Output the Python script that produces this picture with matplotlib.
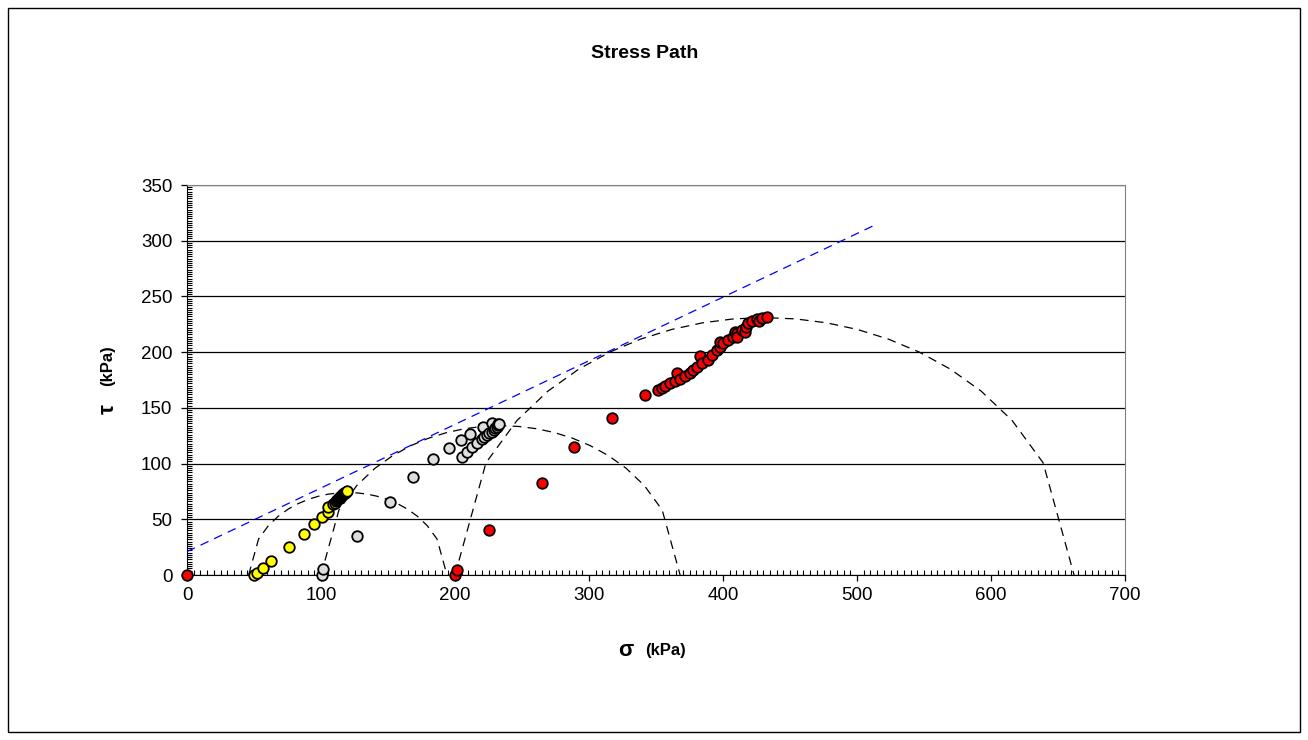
import matplotlib
matplotlib.use('Agg')
import matplotlib.pyplot as plt
import numpy as np
from matplotlib.patches import Rectangle
from matplotlib.ticker import MultipleLocator

plt.rcParams['font.family'] = ['Liberation Sans', 'DejaVu Sans']

# stress path points (sigma, tau) in kPa
yellow_s = [50, 52, 56.5, 62.7, 75.9, 87.5, 95, 100.5, 105.4, 105, 109.2, 110.5, 111.5, 112.3,
            113, 113.8, 114.5, 115.2, 116, 116.7, 117.3, 118, 118.6, 119.2]
yellow_t = [0, 1.5, 6, 12.6, 25.4, 36.8, 45.8, 52.3, 56.8, 61.3, 63.7, 65, 66.2, 67.2,
            68, 69, 70, 70.8, 71.7, 72.5, 73.3, 74, 74.8, 75.5]

grey_s = [100.5, 101.2, 126.6, 151.5, 168.9, 183.8, 195.5, 204.5, 211.2, 221.1, 227.4, 232.3,
          205.5, 208.7, 212.4, 216.2, 219.9, 221.5, 223.6, 225.5, 227.4, 228.8, 229.9, 231.2,
          232.3, 233]
grey_t = [0, 5, 35.3, 65.2, 88.2, 104.1, 114.3, 121.2, 126.2, 132.5, 136.1, 135.5,
          106.2, 110.7, 115.2, 118.7, 121.8, 123.5, 125.6, 127.2, 128.6, 130, 131.6, 133,
          134.6, 135.5]

red_s = [0, 200, 201.2, 225.4, 265, 288.8, 316.9, 341.9, 351.7, 354.2, 356.7, 360.4, 364.2,
         365.4, 367.9, 371.6, 375.4, 377.9, 380.4, 382.8, 384.1, 389, 391.6, 395.3, 397.8,
         397.8, 400.2, 404, 407.2, 409, 410.2, 410.2, 413.9, 416.4, 417.2, 418.9, 421.6,
         425.4, 427, 429.1, 432.8]
red_t = [0, 0, 4.5, 40.4, 83, 115, 140.6, 161.6, 166, 167.5, 169.6, 172, 174.1,
         181.5, 175.9, 178.6, 181, 184, 186.9, 196.5, 190.5, 193, 197.4, 201.9, 204.9,
         209.4, 207.9, 210.9, 213.9, 218.4, 216.9, 213.9, 219.9, 218.4, 222.8, 225.9, 228,
         229.3, 228, 230.6, 231.5]

# failure envelope
env_s = [0, 515]
env_t = [21, 315]

# Mohr circles (sigma3, sigma1)
sig3 = [46, 100, 200]
sig1 = [194, 368, 662]

fig = plt.figure(figsize=(13.08, 7.40), dpi=100)
fig.patches.append(Rectangle((8 / 1308, 8 / 740), 1292 / 1308, 724 / 740, transform=fig.transFigure,
                             fill=False, edgecolor='black', linewidth=1))

ax = fig.add_axes([187 / 1308, 165 / 740, 938 / 1308, 390 / 740])

for s3, s1 in zip(sig3, sig1):
    c = (s3 + s1) / 2
    r = (s1 - s3) / 2
    xs = np.linspace(s3, s1, 21)
    ys = np.sqrt(np.clip(r ** 2 - (xs - c) ** 2, 0, None))
    ax.plot(xs, ys, color='black', lw=0.9, dashes=(7, 5), zorder=3)

ax.plot(env_s, env_t, color='#0000FF', lw=0.9, dashes=(7, 5), zorder=3)

mk = dict(linestyle='none', marker='o', ms=7.6, mec='black', mew=1.3, clip_on=False, zorder=4)
ax.plot(yellow_s, yellow_t, mfc='#FFFF00', **mk)
ax.plot(grey_s, grey_t, mfc='#DDDDDD', **mk)
ax.plot(red_s, red_t, mfc='#FF0000', **mk)

ax.set_xlim(0, 700)
ax.set_ylim(0, 350)
ax.xaxis.set_major_locator(MultipleLocator(100))
ax.xaxis.set_minor_locator(MultipleLocator(5))
ax.yaxis.set_major_locator(MultipleLocator(50))
ax.yaxis.set_minor_locator(MultipleLocator(2))
ax.grid(axis='y', which='major', color='black', lw=0.9)
ax.set_axisbelow(True)

ax.tick_params(which='major', direction='out', length=4.5, width=0.9, labelsize=13.5, colors='black')
ax.tick_params(which='minor', direction='in', length=3.5, width=0.8)
ax.tick_params(axis='x', pad=4)
ax.tick_params(axis='y', pad=6)

for sp in ['top', 'right']:
    ax.spines[sp].set_color('#808080')
for sp in ['left', 'bottom']:
    ax.spines[sp].set_color('black')

fig.text(645 / 1308, 1 - 53 / 740, 'Stress Path', ha='center', va='center', fontsize=14, fontweight='bold')
fig.text(626 / 1308, 1 - 651 / 740, 'σ', ha='center', va='center', fontsize=16, fontweight='bold')
fig.text(666 / 1308, 1 - 651 / 740, '(kPa)', ha='center', va='center', fontsize=12, fontweight='bold')
fig.text(108 / 1308, 1 - 409 / 740, 'τ', ha='center', va='center', rotation=90,
         fontsize=16, fontweight='bold')
fig.text(108 / 1308, 1 - 366 / 740, '(kPa)', ha='center', va='center', rotation=90,
         fontsize=12, fontweight='bold')

fig.savefig('out.png', dpi=100)
